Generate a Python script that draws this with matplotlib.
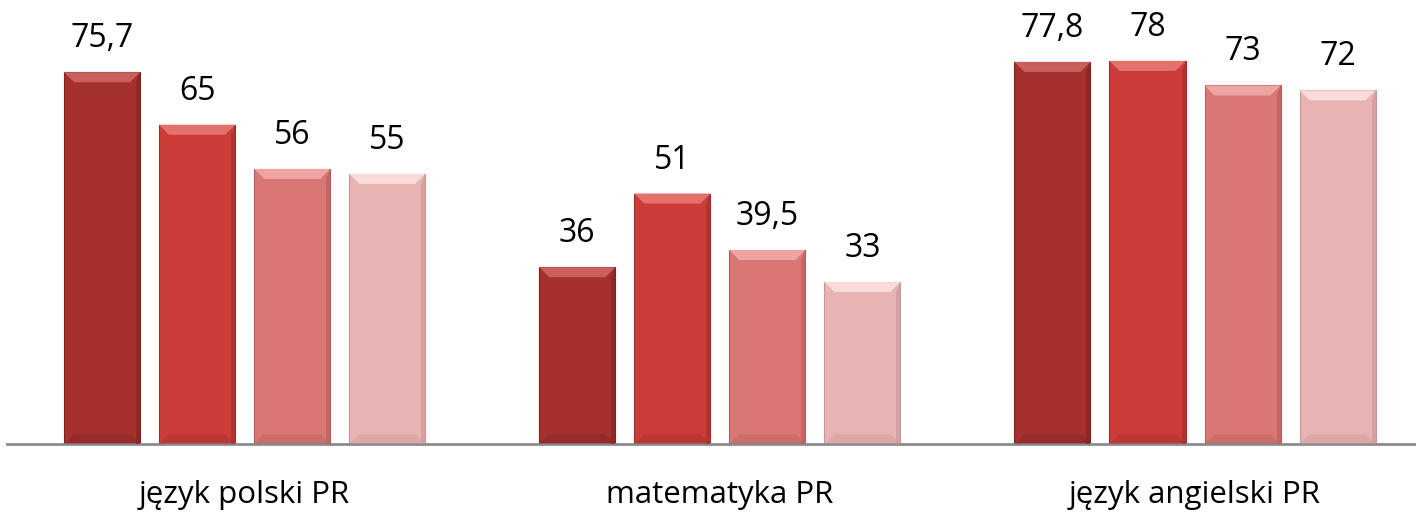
import numpy as np
import matplotlib
matplotlib.use('Agg')
import matplotlib.pyplot as plt
from matplotlib.patches import Polygon

# Data
categories = ['język polski PR', 'matematyka PR', 'język angielski PR']
series_1 = [75.7, 36, 77.8]
series_2 = [65, 51, 78]
series_3 = [56, 39.5, 73]
series_4 = [55, 33, 72]
labels_1 = ['75,7', '36', '77,8']
labels_2 = ['65', '51', '78']
labels_3 = ['56', '39,5', '73']
labels_4 = ['55', '33', '72']

colors = ['#a6302e', '#cc3d3a', '#d97775', '#e8b4b3']
tops = ['#c9605d', '#e5716d', '#eea4a2', '#f8dcdb']
sides = ['#7d2321', '#9c2e2c', '#b45d5b', '#c99795']

plt.rcParams['font.family'] = ['Open Sans', 'DejaVu Sans']

fig = plt.figure(figsize=(14.16, 5.19), dpi=100)
ax = fig.add_axes([7 / 1416, 75 / 519, 1409 / 1416, 442 / 519])

x = np.arange(len(categories))
width = 0.16
offsets = [-0.3, -0.1, 0.1, 0.3]
all_series = [series_1, series_2, series_3, series_4]
all_labels = [labels_1, labels_2, labels_3, labels_4]

# pixel -> data helpers for the bevel
px_x = 1 / 475.25
px_y = 1 / 4.91

for i, (vals, labs) in enumerate(zip(all_series, all_labels)):
    bars = ax.bar(x + offsets[i], vals, width, color=colors[i],
                  edgecolor=sides[i], linewidth=0.8, zorder=2)
    for b, lab in zip(bars, labs):
        x0, w, h = b.get_x(), b.get_width(), b.get_height()
        bev_x = 10 * px_x
        bev_y = 10 * px_y
        # top bevel
        ax.add_patch(Polygon([[x0, h], [x0 + w, h], [x0 + w - bev_x, h - bev_y],
                              [x0 + bev_x, h - bev_y]], closed=True,
                             facecolor=tops[i], edgecolor='none', zorder=3))
        # right side shade
        ax.add_patch(Polygon([[x0 + w, h], [x0 + w, 0], [x0 + w - 4 * px_x, 0],
                              [x0 + w - 4 * px_x, h - bev_y]], closed=True,
                             facecolor=sides[i], edgecolor='none', alpha=0.6, zorder=3))
        # bottom shade
        ax.add_patch(Polygon([[x0, 0], [x0 + w, 0], [x0 + w - bev_x, bev_y],
                              [x0 + bev_x, bev_y]], closed=True,
                             facecolor=sides[i], edgecolor='none', alpha=0.35, zorder=3))
        ax.annotate(lab, (b.get_x() + w / 2, h), xytext=(0, 18),
                    textcoords='offset points', ha='center', va='baseline',
                    fontsize=23, color='black')

ax.set_xlim(-0.5, 2.465)
ax.set_ylim(0, 90)
ax.set_xticks(x)
ax.set_xticklabels(categories, fontsize=22.5)
ax.tick_params(axis='x', length=0, pad=26)
ax.set_yticks([])
for s in ['top', 'right', 'left']:
    ax.spines[s].set_visible(False)
ax.spines['bottom'].set_color('#8c8c8c')
ax.spines['bottom'].set_linewidth(2)

fig.savefig('out.png', dpi=100)
